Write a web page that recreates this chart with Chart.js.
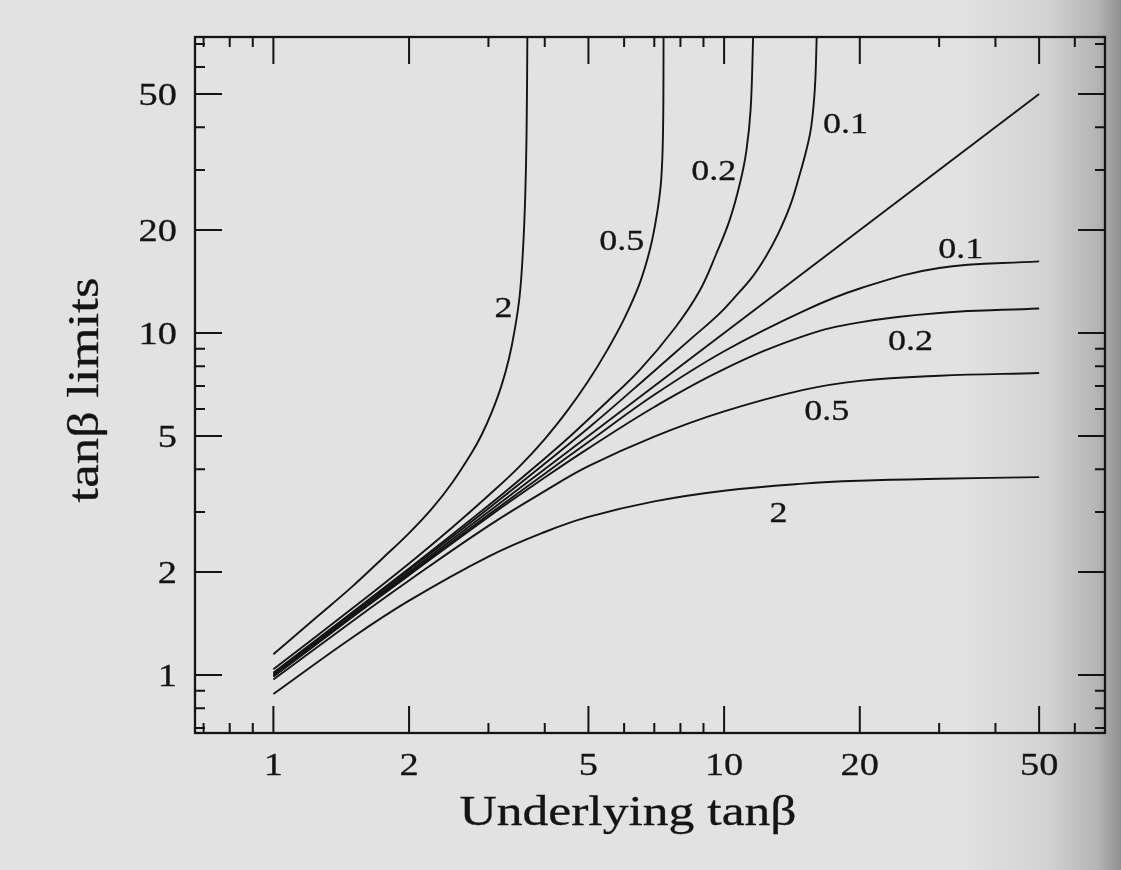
<!DOCTYPE html>
<html>
<head>
<meta charset="utf-8">
<script src="https://cdn.jsdelivr.net/npm/chart.js@4"></script>
<style>
  html, body { margin: 0; padding: 0; background: #e2e2e2; }
  canvas { display: block; }
</style>
</head>
<body>
<canvas id="chart" width="1121" height="870"></canvas>
<script>
// lower limits: sampled at these underlying tanβ values
const xLower = [1, 1.5, 2, 3, 4, 5, 7, 10, 15, 20, 30, 50]
const lower2  = [0.88, 1.29, 1.65, 2.22, 2.62, 2.9, 3.22, 3.46, 3.63, 3.70, 3.75, 3.79]
const lower05 = [0.97, 1.44, 1.89, 2.73, 3.45, 4.08, 4.98, 5.9, 6.82, 7.25, 7.5, 7.64]
const lower02 = [0.99, 1.48, 1.96, 2.9, 3.78, 4.6, 6.08, 7.85, 9.8, 10.75, 11.45, 11.8]
const lower01 = [0.99, 1.49, 1.98, 2.94, 3.88, 4.8, 6.6, 8.85, 11.6, 13.5, 15.5, 16.2]

// upper limits blow up at a finite tanβ, so each one keeps its own x list
const upper2X  = [1, 1.25, 1.5, 1.75, 2, 2.25, 2.5, 2.75, 2.9, 3.05, 3.2, 3.33, 3.43, 3.52, 3.58, 3.62, 3.645, 3.66]
const upper2Y  = [1.15, 1.48, 1.82, 2.2, 2.6, 3.07, 3.67, 4.45, 5.05, 5.86, 6.96, 8.4, 10.2, 12.9, 17.6, 25, 38, 73.4]
const upper05X = [1, 1.5, 2, 2.5, 3, 3.5, 4, 4.5, 5, 5.5, 6, 6.5, 6.85, 7.1, 7.25, 7.32, 7.34]
const upper05Y = [1.04, 1.57, 2.12, 2.71, 3.35, 4.05, 4.9, 5.95, 7.25, 8.9, 11.0, 14.0, 17.6, 22.4, 28, 39, 73.4]
const upper02X = [1, 2, 3, 4, 4.56, 5.5, 6.5, 7.8, 8.8, 9.6, 10.3, 10.85, 11.2, 11.45, 11.6]
const upper02Y = [1.015, 2.05, 3.13, 4.3, 5, 6.3, 7.8, 10.4, 13.2, 17, 21.5, 27.5, 34, 45, 73.4]
const upper01X = [1, 2, 3, 5, 7, 8.5, 9.7, 10.6, 11.6, 12.4, 13.2, 14, 14.65, 15.2, 15.6, 15.9, 16.05]
const upper01Y = [1.01, 2.03, 3.07, 5.28, 7.75, 9.7, 11.3, 12.8, 14.7, 16.8, 19.6, 23.5, 28.5, 34, 40, 52, 73.4]

// measured = underlying
const diagX = [1, 50]
const diagY = [1, 50]

// axes
const xRange = [0.67, 70]
const yRange = [0.677, 73.4]
const majorTicks = [1, 2, 5, 10, 20, 50]
const minorTicksX = [0.7, 0.8, 0.9, 3, 4, 6, 7, 8, 9, 30, 40, 60]
const minorTicksY = [0.7, 0.8, 0.9, 3, 4, 6, 7, 8, 9, 30, 40, 60, 70]

// curve tags, placed in data units
const curveTags = [
    { text: '2',   x: 3.24, y: 11.9 },
    { text: '0.5', x: 5.93, y: 18.7 },
    { text: '0.2', x: 9.48, y: 30.0 },
    { text: '0.1', x: 18.6, y: 41.0 },
    { text: '0.1', x: 33.5, y: 17.7 },
    { text: '0.2', x: 25.9, y: 9.54 },
    { text: '0.5', x: 16.9, y: 5.96 },
    { text: '2',   x: 13.2, y: 3.00 },
]

const INK = '#141414'
const FONT = '"Liberation Serif", "Times New Roman", serif'
const WIDE = 1.2   // the typeface in this figure runs wide

const pairs = (xs, ys) => xs.map((x, i) => ({ x, y: ys[i] }))
const curve = (xs, ys) => ({
    data: pairs(xs, ys),
    showLine: true,
    borderColor: INK,
    borderWidth: 1.9,
    pointRadius: 0,
    tension: 0.4,
    fill: false,
})

function wideText(ctx, str, x, y, size, align, rot) {
    ctx.save()
    ctx.translate(x, y)
    if (rot) ctx.rotate(rot)
    ctx.scale(WIDE, 1)
    ctx.font = `${size}px ${FONT}`
    ctx.fillStyle = INK
    ctx.strokeStyle = INK
    ctx.lineWidth = 0.3
    ctx.textAlign = align
    ctx.textBaseline = 'alphabetic'
    ctx.fillText(str, 0, 0)
    ctx.strokeText(str, 0, 0)
    ctx.restore()
}

const paper = {
    id: 'paper',
    beforeDraw(chart) {
        const { ctx, width, height } = chart
        ctx.save()
        ctx.fillStyle = '#e2e2e2'
        ctx.fillRect(0, 0, width, height)
        const g = ctx.createLinearGradient(960, 0, width, 0)
        g.addColorStop(0, 'rgba(0,0,0,0)')
        g.addColorStop(0.55, 'rgba(0,0,0,0.07)')
        g.addColorStop(0.85, 'rgba(0,0,0,0.2)')
        g.addColorStop(1, 'rgba(0,0,0,0.36)')
        ctx.fillStyle = g
        ctx.fillRect(960, 0, width - 960, height)
        ctx.restore()
    }
}

// box, inward ticks on all four sides, tick labels and axis titles
const axesFrame = {
    id: 'axesFrame',
    afterDatasetsDraw(chart) {
        const { ctx, chartArea: a, scales: { x, y } } = chart
        ctx.save()
        ctx.strokeStyle = INK
        ctx.lineWidth = 2.3
        ctx.strokeRect(a.left, a.top, a.right - a.left, a.bottom - a.top)

        ctx.lineWidth = 2
        const tickX = (v, len) => {
            const px = x.getPixelForValue(v)
            ctx.beginPath()
            ctx.moveTo(px, a.bottom); ctx.lineTo(px, a.bottom - len)
            ctx.moveTo(px, a.top); ctx.lineTo(px, a.top + len)
            ctx.stroke()
        }
        const tickY = (v, len) => {
            const py = y.getPixelForValue(v)
            ctx.beginPath()
            ctx.moveTo(a.left, py); ctx.lineTo(a.left + len, py)
            ctx.moveTo(a.right, py); ctx.lineTo(a.right - len, py)
            ctx.stroke()
        }
        majorTicks.forEach(v => { tickX(v, 27); tickY(v, 27) })
        minorTicksX.forEach(v => tickX(v, 10))
        minorTicksY.forEach(v => tickY(v, 10))

        majorTicks.forEach(v => {
            wideText(ctx, String(v), x.getPixelForValue(v), a.bottom + 42, 32, 'center')
            wideText(ctx, String(v), a.left - 18, y.getPixelForValue(v) + 11, 32, 'right')
        })

        wideText(ctx, 'Underlying tanβ', (a.left + a.right) / 2 - 22, a.bottom + 92, 43, 'center')
        wideText(ctx, 'tanβ limits', a.left - 97, (a.top + a.bottom) / 2 + 5, 44, 'center', -Math.PI / 2)

        curveTags.forEach(t => {
            wideText(ctx, t.text, x.getPixelForValue(t.x), y.getPixelForValue(t.y) + 10, 30, 'center')
        })
        ctx.restore()
    }
}

new Chart(document.getElementById('chart'), {
    type: 'scatter',
    data: {
        datasets: [
            curve(diagX, diagY),
            curve(upper2X, upper2Y),
            curve(upper05X, upper05Y),
            curve(upper02X, upper02Y),
            curve(upper01X, upper01Y),
            curve(xLower, lower01),
            curve(xLower, lower02),
            curve(xLower, lower05),
            curve(xLower, lower2),
        ]
    },
    options: {
        responsive: false,
        animation: false,
        devicePixelRatio: 1,
        layout: { padding: { left: 195, right: 16, top: 37, bottom: 137 } },
        plugins: { legend: { display: false }, tooltip: { enabled: false } },
        scales: {
            x: { type: 'logarithmic', min: xRange[0], max: xRange[1], display: false },
            y: { type: 'logarithmic', min: yRange[0], max: yRange[1], display: false },
        }
    },
    plugins: [paper, axesFrame]
})
</script>
</body>
</html>
